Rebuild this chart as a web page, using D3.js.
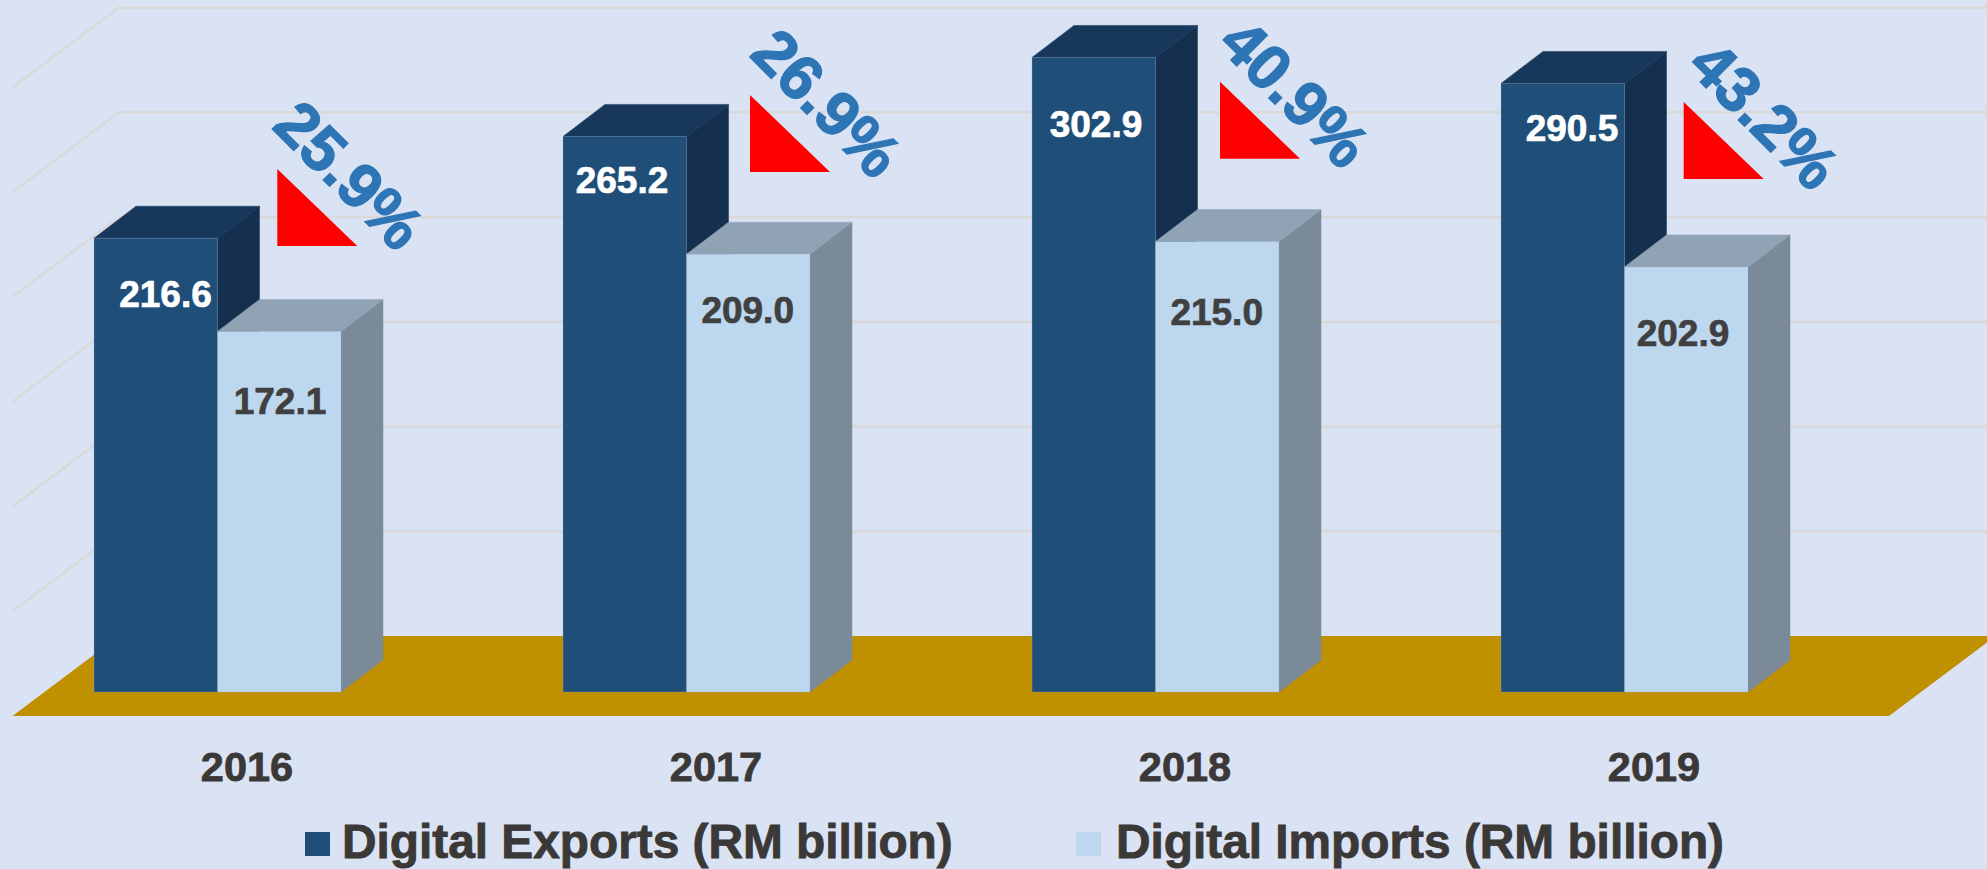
<!DOCTYPE html>
<html><head><meta charset="utf-8">
<script src="https://cdnjs.cloudflare.com/ajax/libs/d3/7.8.5/d3.min.js"></script>
<style>html,body{margin:0;padding:0;background:#DAE3F3;overflow:hidden}svg{display:block}
text{font-family:"Liberation Sans",Arial,sans-serif;font-weight:700}</style></head>
<body><div id="c"></div>
<script>
// --- data ---
const years = ["2016","2017","2018","2019"];
const digitalExports = [216.6,265.2,302.9,290.5];
const digitalImports = [172.1,209.0,215.0,202.9];
const shareOfGdp = ["25.9%","26.9%","40.9%","43.2%"];
const legendLabels = ["Digital Exports (RM billion)","Digital Imports (RM billion)"];
const gridTicks = [0,50,100,150,200,250,300];

// --- layout offsets for hand-placed annotations ---
const exportLabelOffset = [[71.5,68.5],[59,57],[64,79.3],[71,57.6]];
const importLabelOffset = [[62.5,82.6],[61.2,68.6],[61.2,83.4],[58.5,79.1]];
const triangleOffset = [[183.3,7.8],[187,35.6],[188,101.3],[182.7,95.6]];
const pctOffset = [[255.5,-63.2],[264,-33.4],[263,35.6],[263.5,31.6]];

const W=1987,H=869;
const C={bg:"#DAE3F3",grid:"#D9D9D9",floor:"#BF9000",text:"#3B3838",pct:"#2E75B6",
  exp:["#1F4E79","#17375B","#15304E"],imp:["#BDD7EE","#8FA3B5","#7A8A99"]};
const barDx=42,barDy=-32;           // bar depth
const wallDx=106.5,wallDy=-80;      // floor depth
const base=692;

const x=d3.scaleBand().domain(years).range([94,1748]).paddingInner(1-247/469).paddingOuter(0);
const series=d3.scaleBand().domain([0,1]).range([0,x.bandwidth()]);
const y=d3.scaleLinear().domain([0,300]).range([base,base-628.5]);

const svg=d3.select("#c").append("svg").attr("width",W).attr("height",H).attr("viewBox",`0 0 ${W} ${H}`);
svg.append("rect").attr("width",W).attr("height",H).attr("fill",C.bg);

// walls: gridlines on side + back
const backY=v=>y(v)-56, frontX=12.5, backX=frontX+wallDx;
svg.append("g").selectAll("path").data(gridTicks.slice(1)).join("path")
  .attr("fill","none").attr("stroke",C.grid).attr("stroke-width",2.5)
  .attr("d",v=>d3.line()([[frontX,backY(v)-wallDy],[backX,backY(v)],[W+5,backY(v)]]));

// floor
const floorFront=backY(0)-wallDy;
svg.append("path").attr("fill",C.floor)
  .attr("d",d3.line()([[frontX,floorFront],[1889,floorFront],[1889+wallDx,backY(0)],[backX,backY(0)]])+"Z");

// bars
function bar(g,x0,w,v,col){
  const t=y(v),b=y(0),edge="rgba(150,170,195,.3)";
  const poly=(pts,f)=>g.append("path").attr("fill",f).attr("stroke",f).attr("stroke-width",.5).attr("d",d3.line()(pts)+"Z");
  poly([[x0+w,t],[x0+w+barDx,t+barDy],[x0+w+barDx,b+barDy],[x0+w,b]],col[2]);
  poly([[x0,t],[x0+barDx,t+barDy],[x0+w+barDx,t+barDy],[x0+w,t]],col[1]);
  g.append("rect").attr("x",x0).attr("y",t).attr("width",w).attr("height",b-t).attr("fill",col[0])
   .attr("stroke",edge).attr("stroke-width",1);
}
const bold=(sel,col,sw)=>sel.attr("fill",col).attr("stroke",col).attr("stroke-width",sw);
const groups=svg.append("g").selectAll("g").data(years).join("g");
groups.each(function(yr,i){
  const g=d3.select(this),x0=x(yr),w=series.bandwidth();
  bar(g,x0+series(0),w,digitalExports[i],C.exp);
  bar(g,x0+series(1),w,digitalImports[i],C.imp);
  const te=y(digitalExports[i]),ti=y(digitalImports[i]);
  bold(g.append("text").attr("x",x0+exportLabelOffset[i][0]).attr("y",te+exportLabelOffset[i][1])
   .attr("text-anchor","middle").attr("font-size",37).text(digitalExports[i].toFixed(1)),"#fff",.7);
  bold(g.append("text").attr("x",x0+series(1)+importLabelOffset[i][0]).attr("y",ti+importLabelOffset[i][1])
   .attr("text-anchor","middle").attr("font-size",37).text(digitalImports[i].toFixed(1)),"#404040",.7);
  const tx=x0+triangleOffset[i][0],ty=te+triangleOffset[i][1];
  g.append("path").attr("fill","#FF0000").attr("d",d3.line()([[tx,ty],[tx,ty-77],[tx+80,ty]])+"Z");
  const px=x0+pctOffset[i][0],py=te+pctOffset[i][1];
  bold(g.append("text").attr("transform",`translate(${px},${py}) rotate(45)`)
   .attr("text-anchor","middle").attr("dominant-baseline","central")
   .attr("font-size",63).text(shareOfGdp[i]),C.pct,1.4);
  bold(g.append("text").attr("x",x0+153).attr("y",781).attr("text-anchor","middle")
   .attr("font-size",41.5).text(yr),C.text,.8);
});

// legend
const legendX=[305,1076],legendW=[25,25];
const lg=svg.append("g").selectAll("g").data(legendLabels).join("g");
lg.append("rect").attr("x",(d,i)=>legendX[i]).attr("y",832).attr("width",(d,i)=>legendW[i]).attr("height",24)
  .attr("fill",(d,i)=>[C.exp[0],C.imp[0]][i]);
bold(lg.append("text").attr("x",(d,i)=>legendX[i]+[37,40][i]).attr("y",858).attr("font-size",47.8)
  .text(d=>d),C.text,.9);
</script></body></html>
